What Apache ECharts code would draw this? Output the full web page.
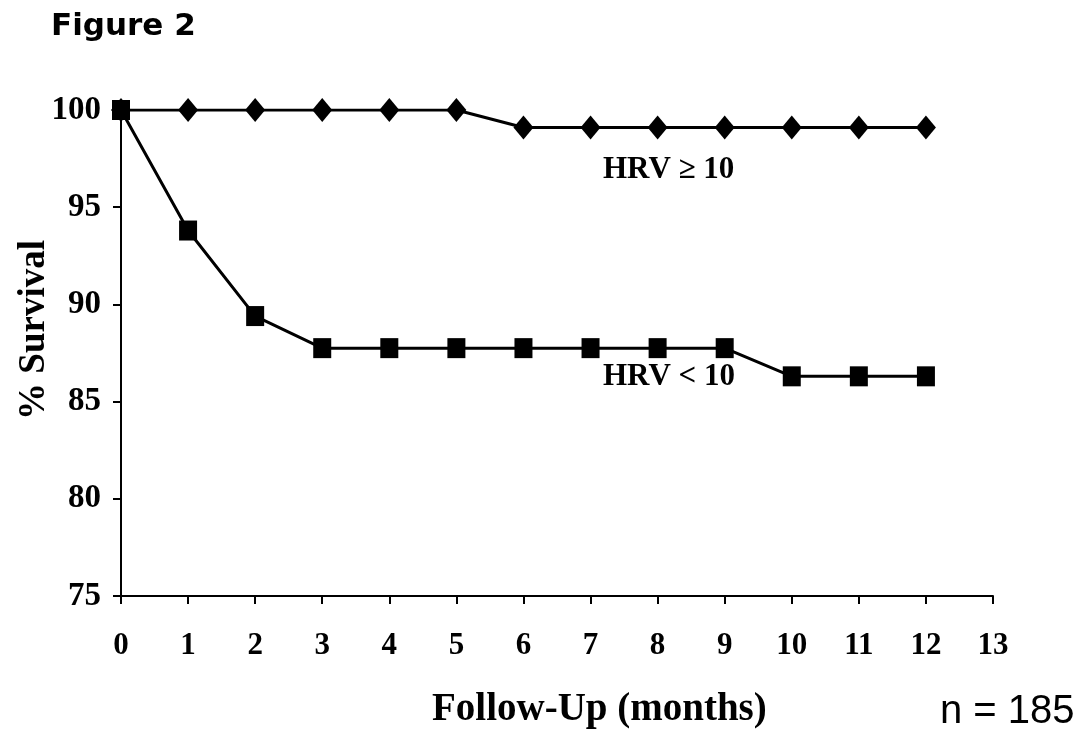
<!DOCTYPE html>
<html>
<head>
<meta charset="utf-8">
<script src="https://cdn.jsdelivr.net/npm/echarts@6/dist/echarts.min.js"></script>
<style>
html,body{margin:0;padding:0;background:#fff;}
#chart{width:1084px;height:729px;}
</style>
</head>
<body>
<div id="chart"></div>
<script>
const months = [0,1,2,3,4,5,6,7,8,9,10,11,12];
const hrvHigh = [100,100,100,100,100,100,99.1,99.1,99.1,99.1,99.1,99.1,99.1];
const hrvLow  = [100,93.8,89.4,87.75,87.75,87.75,87.75,87.75,87.75,87.75,86.3,86.3,86.3];
const yTicks = [75,80,85,90,95,100];
const xTicks = [0,1,2,3,4,5,6,7,8,9,10,11,12,13];

const serif = '"Liberation Serif","Times New Roman",serif';
const chart = echarts.init(document.getElementById('chart'), null, {renderer:'canvas'});
chart.setOption({
  backgroundColor:'#ffffff',
  animation:false,
  grid:{left:121, right:91, top:110, bottom:133, containLabel:false, outerBoundsMode:'none'},
  xAxis:{
    type:'value', min:xTicks[0], max:xTicks[xTicks.length-1], interval:1,
    axisLine:{show:true, onZero:false, lineStyle:{color:'#000', width:2}},
    axisTick:{show:true, inside:false, length:8, lineStyle:{color:'#000', width:2}},
    axisLabel:{color:'#000', fontFamily:serif, fontWeight:'bold', fontSize:31, margin:34},
    splitLine:{show:false}
  },
  yAxis:{
    type:'value', min:yTicks[0], max:yTicks[yTicks.length-1], interval:5,
    axisLine:{show:true, lineStyle:{color:'#000', width:2}},
    axisTick:{show:true, length:8, lineStyle:{color:'#000', width:2}},
    axisLabel:{color:'#000', fontFamily:serif, fontWeight:'bold', fontSize:33, margin:20},
    splitLine:{show:false}
  },
  series:[
    {
      name:'HRV ≥ 10', type:'line',
      data: months.map((m,i)=>[m,hrvHigh[i]]),
      symbol:'diamond', symbolSize:[20,24],
      lineStyle:{color:'#000', width:3},
      itemStyle:{color:'#000'},
      z:3
    },
    {
      name:'HRV < 10', type:'line',
      data: months.map((m,i)=>[m,hrvLow[i]]),
      symbol:'rect', symbolSize:[18,20],
      lineStyle:{color:'#000', width:3},
      itemStyle:{color:'#000'},
      z:4
    }
  ],
  graphic:[
    {type:'text', left:51, top:11, style:{text:'Figure 2', fill:'#000', font:'bold 31px "DejaVu Sans", sans-serif'}},
    {type:'text', x:34, y:330, rotation:Math.PI/2, style:{text:'% Survival', fill:'#000', font:'bold 37px '+serif, align:'center', verticalAlign:'middle'}},
    {type:'text', left:603, top:154, style:{text:'HRV ≥ 10', fill:'#000', font:'bold 31px '+serif}},
    {type:'text', left:603, top:361, style:{text:'HRV < 10', fill:'#000', font:'bold 31px '+serif}},
    {type:'text', left:432, top:690, style:{text:'Follow-Up (months)', fill:'#000', font:'bold 39px '+serif}},
    {type:'text', left:940, top:692, style:{text:'n = 185', fill:'#000', font:'40px "Liberation Sans", Arial, sans-serif'}}
  ]
});
</script>
</body>
</html>
